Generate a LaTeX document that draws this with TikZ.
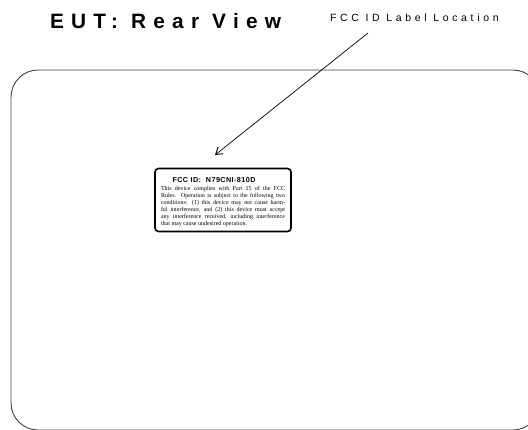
\documentclass[tikz,border=0pt]{standalone}
\usepackage{fontspec}
\setmainfont{Liberation Serif}
\setsansfont{Liberation Sans}
\newfontfamily\titlefont[LetterSpace=35]{Liberation Sans}
\newfontfamily\locfont[LetterSpace=35]{Liberation Sans}
\newfontfamily\idfont[LetterSpace=6]{Liberation Sans}
\usetikzlibrary{arrows.meta}
\begin{document}
\begin{tikzpicture}[x=1pt,y=-1pt,
  outline/.style={draw=black!75,line width=0.9pt,rounded corners=27pt},
  labelbox/.style={draw=black,line width=1.6pt,rounded corners=3.5pt,minimum width=136pt,minimum height=63pt,inner sep=0pt},
  pointer/.style={draw=black,line width=0.7pt,-{Straight Barb[length=6.5pt,width=8.5pt,line width=0.9pt]}},
  plain/.style={inner sep=0pt,outer sep=0pt}]
\useasboundingbox (0,0) rectangle (528,429);
\begin{scope}
\clip (0,0) rectangle (528,429);
\draw[outline] (11,70) rectangle (540,430);
\end{scope}
\node[plain,anchor=base west,font=\titlefont\bfseries\fontsize{20.8}{24}\selectfont] (title) at (50,28) {EUT: Rear View};
\node[plain,anchor=base west,font=\locfont\fontsize{10.5}{12}\selectfont] (loc) at (330,21) {FCC ID Label Location};
\node[labelbox] (fcclabel) at (223,200) {};
\node[plain,anchor=base,font=\idfont\bfseries\fontsize{7.2}{8}\selectfont] (fccid) at (214,182) {FCC ID:\ \ N79CNI-810D};
\node[plain,font=\rmfamily\fontsize{6.0}{6.9}\selectfont,text width=124pt,align=justify] (body) at (223,206.5)
{This device complies with Part 15 of the FCC\linebreak Rules. Operation is subject to the following two\linebreak conditions: (1) this device may not cause harm-\linebreak ful interference, and (2) this device must accept\linebreak any interference received, including interference\linebreak that may cause undesired operation.};
\coordinate (start) at (368,33);
\coordinate (tip) at (215,155);
\draw[pointer] (start) -- (tip);
\end{tikzpicture}
\end{document}
